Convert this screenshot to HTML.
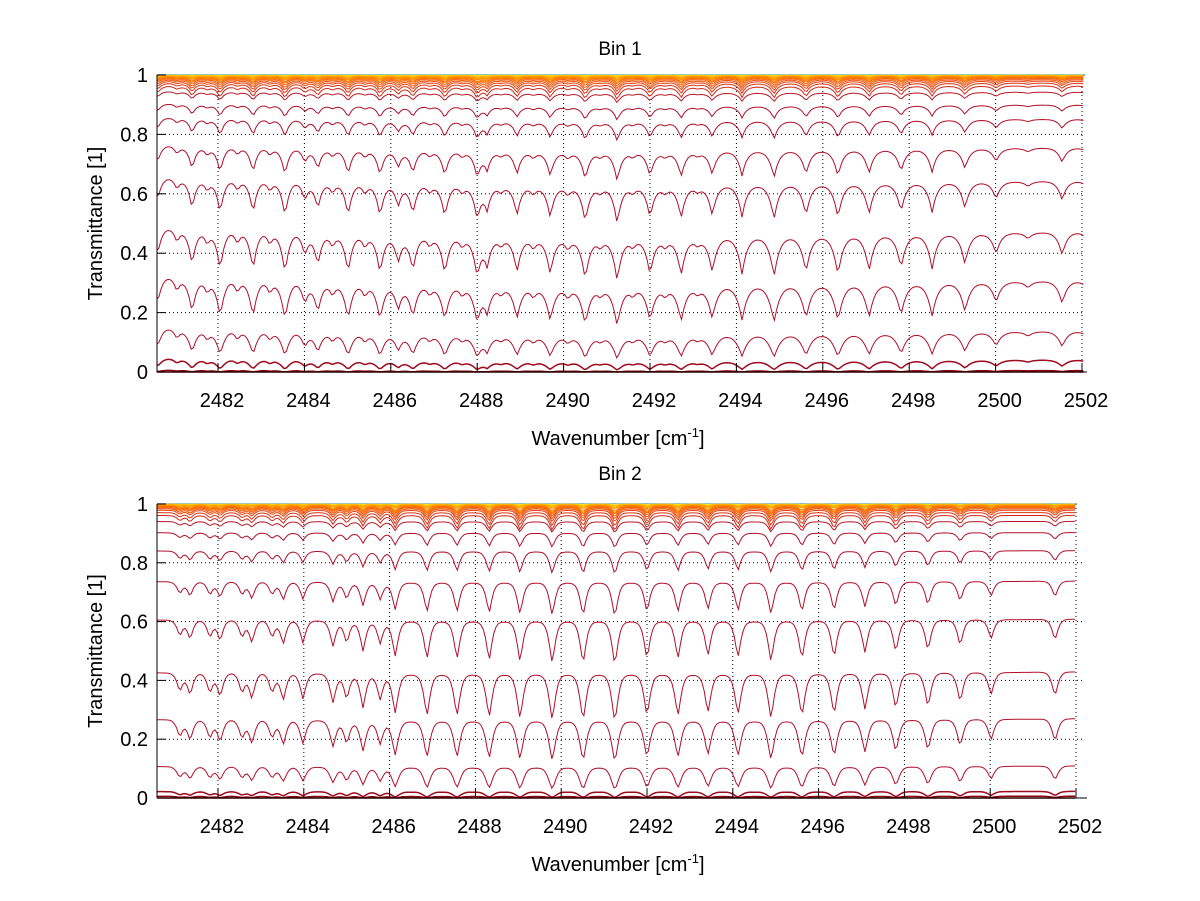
<!DOCTYPE html>
<html><head><meta charset="utf-8"><style>
html,body{margin:0;padding:0;background:#fff;}
svg{display:block;font-family:"Liberation Sans",Arial,sans-serif;}
</style></head><body>
<svg id="chart" width="1200" height="901" viewBox="0 0 1200 901" xmlns="http://www.w3.org/2000/svg"></svg>
<script>
// ---- data ----
const xTicks = [2482,2484,2486,2488,2490,2492,2494,2496,2498,2500,2502];
const yTicks = [0,0.2,0.4,0.6,0.8,1];
const yTickLabels = ["0","0.2","0.4","0.6","0.8","1"];
const wnStart = 2480.58;
const wnEndTop = 2502.07;
const wnEndBottom = 2502.02;

// Bin 1 absorption lines (centres, relative strengths)
const topCenters = [2480.6,2481.05,2481.40,2481.75,2482.05,2482.45,2482.81,2483.2,2483.55,2484.01,2484.31,2484.65,2485.01,2485.4,2485.75,2486.17,2486.51,2486.9,2487.25,2487.65,2488.0,2488.23,2488.55,2488.92,2489.3,2489.69,2490.1,2490.50,2490.85,2491.24,2491.6,2492.0,2492.35,2492.72,2493.1,2493.44,2494.13,2494.87,2495.61,2496.35,2497.07,2497.81,2498.53,2499.29,2500.01,2500.75,2501.54,2502.15];
const topStrengths = [0.3,0.15,0.40,0.15,0.45,0.15,0.45,0.15,0.48,0.25,0.36,0.15,0.45,0.15,0.45,0.3,0.40,0.12,0.44,0.12,0.44,0.3,0.1,0.40,0.12,0.42,0.12,0.48,0.1,0.5,0.1,0.42,0.1,0.43,0.08,0.39,0.41,0.45,0.40,0.44,0.39,0.36,0.37,0.32,0.21,0.06,0.23,0.1];
// Bin 2 absorption lines
const botCenters = [2481.11,2481.35,2481.81,2482.05,2482.56,2482.79,2483.26,2483.52,2483.98,2484.68,2485.0,2485.38,2485.78,2486.13,2486.87,2487.57,2488.32,2489.04,2489.79,2490.51,2491.25,2492.0,2492.72,2493.42,2494.12,2494.89,2495.61,2496.36,2497.08,2497.80,2498.55,2499.30,2500.02,2501.51];
const botStrengths = [0.18,0.22,0.2,0.24,0.2,0.26,0.2,0.28,0.26,0.3,0.26,0.36,0.26,0.42,0.46,0.46,0.48,0.5,0.52,0.53,0.55,0.46,0.46,0.42,0.44,0.5,0.47,0.45,0.38,0.38,0.36,0.3,0.22,0.24];

// continuum exponent across the band
const contWn = [2480.5,2483,2486,2490,2495,2499.5,2502.2];
const contTop = [0.88,0.9,0.95,1,1,0.97,0.95];
const contBot = [0.98,0.98,1,1,1,0.98,0.97];

// curve baseline transmittances & line scale per curve
const topLevels = [0.0,0.004,0.035,0.125,0.29,0.455,0.63,0.745,0.845,0.895,0.94,0.962,0.972,0.979,0.984,0.988,0.991,0.993,0.995,0.996,0.997,0.998,0.9985,0.999,0.9995];
const botLevels = [0.0,0.005,0.02,0.102,0.259,0.418,0.599,0.731,0.837,0.90,0.939,0.96,0.970,0.978,0.983,0.987,0.99,0.992,0.994,0.996,0.997,0.998,0.9985,0.999,0.9995];
const lineScale = [1,1,1,1,1,1,1,1,1,1,1.2,2.5,3,3.5,4,4.5,5,5.5,6,6,6,6,6,5,4];
const curveColors = ["#7a0000","#8c0010","#a00a1e","#b0102a","#b0102a","#b0102a","#b0102a","#b0102a","#b0102a","#b0102a","#b81828","#d02818","#dc3412","#e8420c","#f05008","#f65e04","#fb6c00","#ff7a00","#ff8800","#ff9800","#ffa800","#ffb800","#ffc810","#ffd820","#ffe840"];

// ---- drawing ----
const NS="http://www.w3.org/2000/svg";
const svg=document.getElementById('chart');
function mk(tag,attrs,parent){const e=document.createElementNS(NS,tag);for(const k in attrs)e.setAttribute(k,attrs[k]);(parent||svg).appendChild(e);return e;}

function interp(xs,ys,x){if(x<=xs[0])return ys[0];for(let i=1;i<xs.length;i++){if(x<=xs[i]){const t=(x-xs[i-1])/(xs[i]-xs[i-1]);return ys[i-1]+t*(ys[i]-ys[i-1]);}}return ys[ys.length-1];}

function drawPanel(cfg){
  const g=mk('g',{});
  
  
  const X=w=>cfg.x0+(w-2482)*cfg.pxPerWn;
  const Y=v=>cfg.y0-v*(cfg.y0-cfg.y1);
  const L=157, R=1085;
  yTicks.forEach((t,i)=>{
    if(t>0&&t<1){const l=mk('line',{x1:L,x2:R,y1:Y(t),y2:Y(t),stroke:'#000','stroke-width':1,'stroke-dasharray':'1,3'},g);
    }
  });
  xTicks.forEach(t=>{
    const l=mk('line',{x1:X(t),x2:X(t),y1:cfg.y1,y2:cfg.y0,stroke:'#000','stroke-width':1,'stroke-dasharray':'1,3'},g);
    
  });
  const bl=mk('line',{x1:L,x2:X(cfg.wnEnd),y1:Y(1),y2:Y(1),stroke:'#3a9ad0','stroke-width':1.5},g);
  
  const step=0.05;
  for(let c=cfg.levels.length-1;c>=0;c--){
    const b=cfg.levels[c];
    let d='';
    for(let w=wnStart;w<=cfg.wnEnd+1e-6;w+=step){
      let tau=0;
      for(let j=0;j<cfg.centers.length;j++){const dx=Math.abs(w-cfg.centers[j]);tau+=cfg.strengths[j]*Math.exp(-Math.pow(dx/cfg.hw,cfg.pw));}
      const ex=interp(contWn,cfg.cont,w)+lineScale[c]*tau;
      const T=b<=0?0:Math.pow(b,ex);
      d+=(d?'L':'M')+X(w).toFixed(1)+','+Y(T).toFixed(1);
    }
    const p=mk('path',{d:d,fill:'none',stroke:curveColors[c],'stroke-width':c<3?1.5:1},g);
    
    
  }
  const ax=mk('line',{x1:L,x2:L,y1:cfg.y1,y2:cfg.y0,stroke:'#000','stroke-width':1},g);
  
  const bx=mk('line',{x1:L,x2:R+2,y1:cfg.y0,y2:cfg.y0,stroke:'#000','stroke-width':1},g);
  
  yTicks.forEach((t,i)=>{
    mk('line',{x1:L,x2:L+9,y1:Y(t),y2:Y(t),stroke:'#000'},g);
    const tx=mk('text',{x:148,y:Y(t)+7,'font-size':20,'text-anchor':'end',fill:'#000'},g);
    tx.textContent=yTickLabels[i];
    
  });
  xTicks.forEach(t=>{
    mk('line',{x1:X(t),x2:X(t),y1:cfg.y0,y2:cfg.y0-9,stroke:'#000'},g);
    const tx=mk('text',{x:X(t)+4,y:cfg.y0+35,'font-size':20,'text-anchor':'middle',fill:'#000'},g);
    tx.textContent=String(t);
    
  });
  const ti=mk('text',{x:620,y:cfg.titleY,'font-size':19,'text-anchor':'middle',fill:'#000'},g);
  ti.textContent=cfg.title;
  const xl=mk('text',{x:618,y:cfg.y0+73,'font-size':20,'text-anchor':'middle',fill:'#000'},g);
  
  xl.innerHTML='Wavenumber [cm<tspan dy="-8" font-size="13">-1</tspan><tspan dy="8">]</tspan>';
  const yc=(cfg.y0+cfg.y1)/2;
  const yl=mk('text',{x:102,y:yc,'font-size':20,'text-anchor':'middle',fill:'#000',transform:'rotate(-90 102 '+yc+')'},g);
  yl.textContent='Transmittance [1]';
}

drawPanel({name:'bin-1-panel',title:'Bin 1',titleY:55,x0:218,pxPerWn:43.2,y0:372,y1:75,centers:topCenters,strengths:topStrengths,hw:0.11,pw:1,cont:contTop,levels:topLevels,wnEnd:wnEndTop});
drawPanel({name:'bin-2-panel',title:'Bin 2',titleY:480,x0:218,pxPerWn:42.9,y0:798,y1:504,centers:botCenters,strengths:botStrengths,hw:0.09,pw:1.3,cont:contBot,levels:botLevels,wnEnd:wnEndBottom});
</script>
</body></html>
